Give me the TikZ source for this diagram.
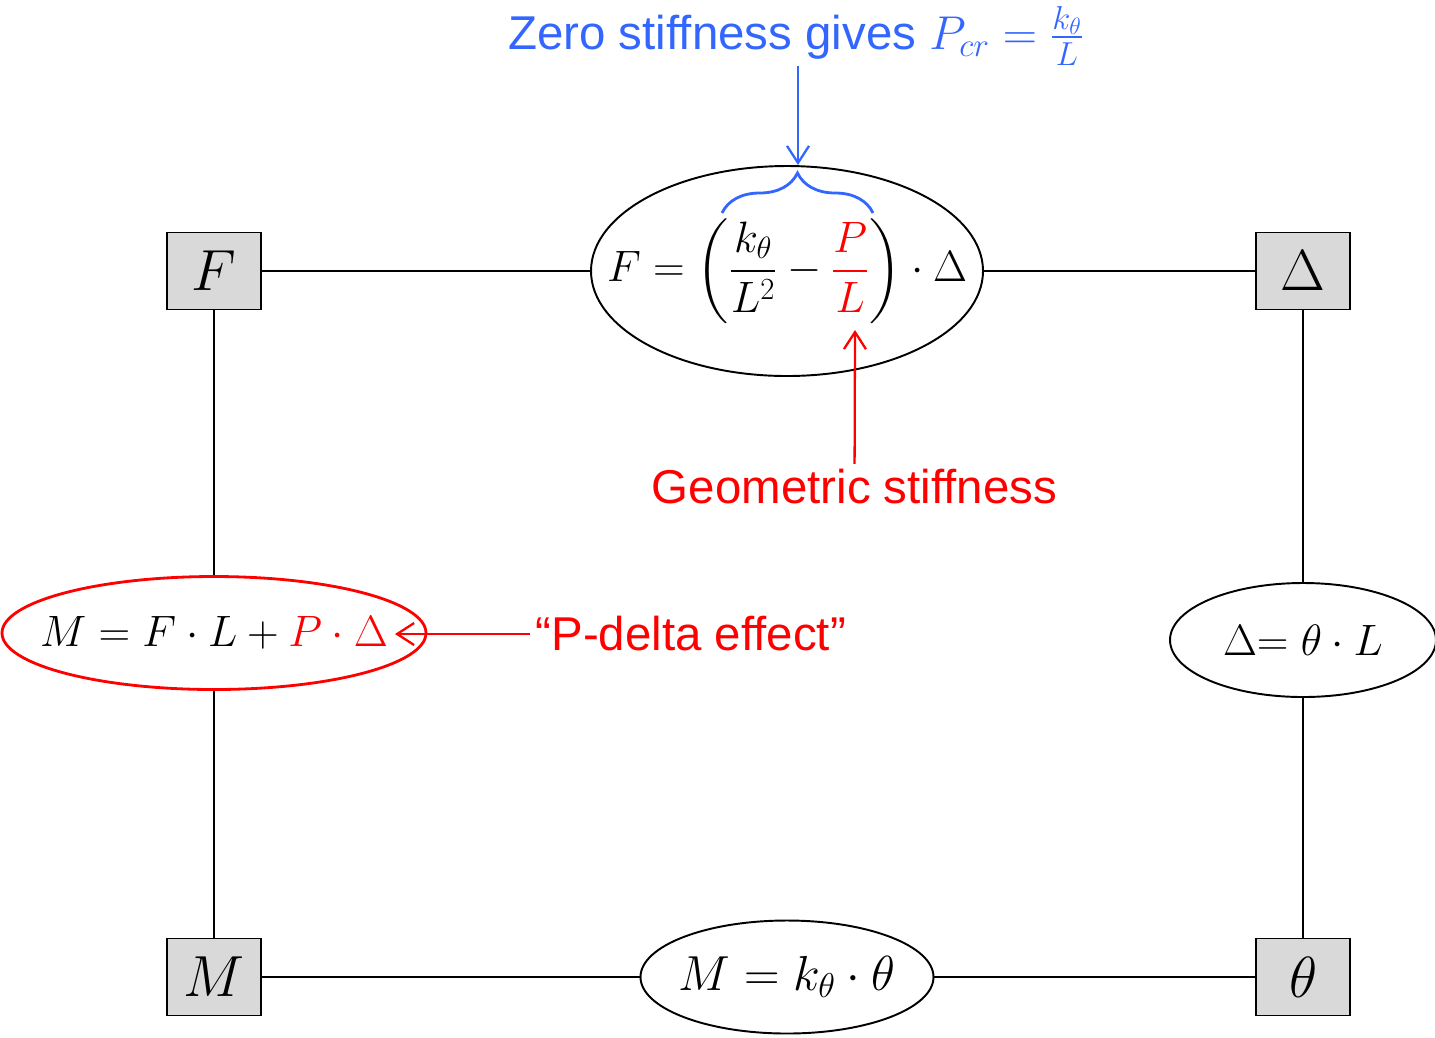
\documentclass[tikz,border=0pt]{standalone}
\usepackage{fix-cm}
\usepackage[no-math]{fontspec}
\setmainfont{Liberation Sans}
\usepackage{amsmath}
\usepackage{xcolor}
\usepackage{tikz}
\usetikzlibrary{shapes.geometric,arrows.meta,decorations.pathreplacing}
\definecolor{skyblue}{HTML}{3366FF}
\definecolor{alarm}{HTML}{FF0000}
\definecolor{boxgray}{HTML}{D9D9D9}

\tikzset{
  var/.style={draw,fill=boxgray,line width=1.1pt,minimum width=1.88cm,minimum height=1.54cm,inner sep=0pt,font=\fontsize{33}{40}\selectfont},
  eqring/.style={ellipse,draw,line width=1.1pt,inner sep=0pt},
  link/.style={line width=1.1pt},
  note/.style={inner sep=3pt,font=\fontsize{27}{32}\selectfont},
  pointer/.style={line width=1.3pt,-{Straight Barb[length=3.4mm,width=4.4mm]}},
}

\begin{document}
\begin{tikzpicture}
\useasboundingbox (0,0) rectangle (28.7,-20.74);
% variables
\node[var] (F) at (4.28,-5.42) {$F$};
\node[var] (D) at (26.06,-5.42) {$\Delta$};
\node[var] (M) at (4.28,-19.54) {$M$};
\node[var] (T) at (26.06,-19.54) {$\theta$};
% relations
\node[eqring,minimum width=7.84cm,minimum height=4.2cm,
  label={[font=\fontsize{25}{30}\selectfont]center:$\displaystyle F=\left(\frac{k_\theta}{L^2}-{\color{alarm}\frac{P}{L}}\right)\cdot\Delta$}] (eqF) at (15.74,-5.42) {};
\node[eqring,draw=alarm,line width=1.6pt,minimum width=8.48cm,minimum height=2.26cm,
  label={[font=\fontsize{25}{30}\selectfont]center:$M=F\cdot L+{\color{alarm}P\cdot\Delta}$}] (eqM) at (4.28,-12.66) {};
\node[eqring,minimum width=5.32cm,minimum height=2.28cm,
  label={[font=\fontsize{25}{30}\selectfont]center:$\Delta{=}\ \theta\cdot L$}] (eqL) at (26.06,-12.8) {};
\node[eqring,minimum width=5.86cm,minimum height=2.26cm,
  label={[font=\fontsize{28}{33}\selectfont]center:$M=k_\theta\cdot\theta$}] (eqK) at (15.74,-19.54) {};
% links
\draw[link] (F) -- (eqF);
\draw[link] (eqF) -- (D);
\draw[link] (F) -- (eqM);
\draw[link] (eqM) -- (M);
\draw[link] (M) -- (eqK);
\draw[link] (eqK) -- (T);
\draw[link] (D) -- (eqL);
\draw[link] (eqL) -- (T);
% notes
\node[note,inner sep=0pt,anchor=base,text=skyblue] (zero) at (15.92,-0.98) {Zero stiffness gives $P_{cr}=\frac{k_\theta}{L}$};
\coordinate (brL) at (14.44,-4.26);
\coordinate (brR) at (17.46,-4.26);
\coordinate (brtip) at (15.96,-3.3);
\draw[skyblue,line width=1.6pt,decorate,decoration={brace,amplitude=0.8cm}] (brL) -- (brR);
\draw[pointer,skyblue] (zero.south -| brtip) -- (brtip);
\node[note,text=alarm] (geo) at (17.09,-9.74) {Geometric stiffness};
\coordinate (geotip) at (17.1,-6.6);
\draw[pointer,alarm] (geo) -- (geotip);
\node[note,anchor=west,text=alarm] (pd) at (10.6,-12.68) {“P-delta effect”};
\coordinate (pdtip) at (7.9,-12.68);
\draw[pointer,alarm] (pd) -- (pdtip);
\end{tikzpicture}
\end{document}
